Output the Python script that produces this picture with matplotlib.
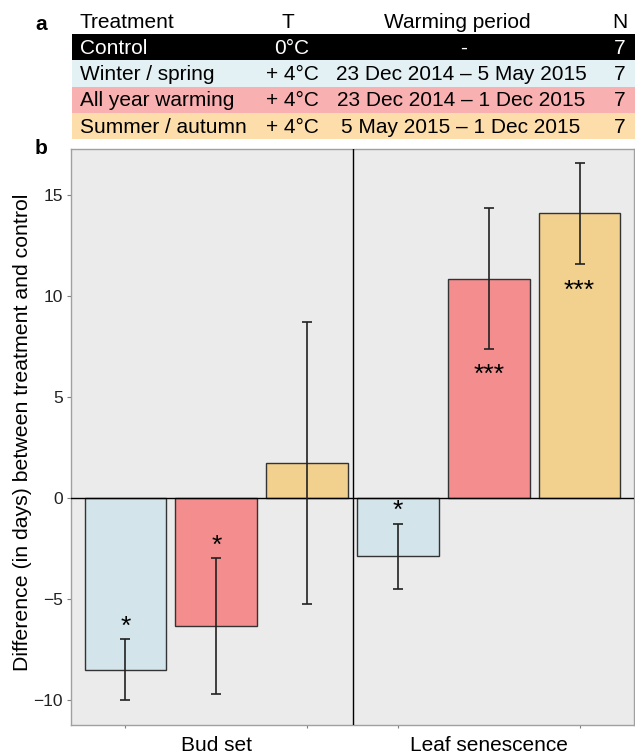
import matplotlib
matplotlib.use("Agg")
import matplotlib.pyplot as plt
from matplotlib.patches import Rectangle
import numpy as np

plt.rcParams["font.family"] = ["Liberation Sans", "DejaVu Sans"]

# ---------------------------------------------------------------------------
# Data
# ---------------------------------------------------------------------------

# Table of treatments (panel a)
TABLE_HEADER = ["Treatment", "T", "Warming period", "N"]
TREATMENTS = ["Control", "Winter / spring", "All year warming", "Summer / autumn"]
TEMPS = ["0°C", "+ 4°C", "+ 4°C", "+ 4°C"]
PERIODS = [
    "-",
    "23 Dec 2014 – 5 May 2015",
    "23 Dec 2014 – 1 Dec 2015",
    "5 May 2015 – 1 Dec 2015",
]
N_TREES = [7, 7, 7, 7]
ROW_COLORS = ["#000000", "#E3F1F5", "#F9B0B0", "#FDDEAB"]
ROW_TEXT = ["white", "black", "black", "black"]

# Bar chart (panel b): difference treatment - control, in days
PHASES = ["Bud set", "Leaf senescence"]
BAR_TREATMENTS = ["Winter / spring", "All year warming", "Summer / autumn"]
BAR_COLORS = ["#D3E4EB", "#F48D8E", "#F2D08E"]
BUD_SET_MEAN = [-8.5, -6.34, 1.72]
BUD_SET_SE = [1.5, 3.37, 6.97]
BUD_SET_SIG = ["*", "*", ""]
SENESCENCE_MEAN = [-2.89, 10.86, 14.09]
SENESCENCE_SE = [1.61, 3.48, 2.51]
SENESCENCE_SIG = ["*", "***", "***"]

# ---------------------------------------------------------------------------
# Figure
# ---------------------------------------------------------------------------

W, H = 635, 756
fig = plt.figure(figsize=(W / 100, H / 100), dpi=100)

# -- panel a: treatment table, laid out in pixel coordinates --
tab = fig.add_axes([0, 0, 1, 1])
tab.set_xlim(0, W)
tab.set_ylim(H, 0)
tab.axis("off")

fs_tab = 15.0
row_top, row_h = 34.0, 26.3
col_x = [80, 292, 461, 620]
col_ha = ["left", "center", "center", "center"]

header_x = [80, 288, 457, 620]
for x, ha, txt in zip(header_x, col_ha, TABLE_HEADER):
    tab.text(x, 22, txt, ha=ha, va="center", fontsize=fs_tab)

for i, (name, temp, period, n) in enumerate(zip(TREATMENTS, TEMPS, PERIODS, N_TREES)):
    y0 = row_top + i * row_h
    tab.add_patch(Rectangle((71.5, y0), W - 71.5, row_h,
                            facecolor=ROW_COLORS[i], edgecolor="none"))
    yc = y0 + row_h / 2 + 1
    for x, ha, txt in zip(col_x, col_ha, [name, temp, period, str(n)]):
        if txt == "-":
            x = 464
        tab.text(x, yc, txt, ha=ha, va="center", fontsize=fs_tab,
                 color=ROW_TEXT[i])

tab.text(41, 24, "a", ha="center", va="center", fontsize=15, fontweight="bold")
tab.text(41, 149, "b", ha="center", va="center", fontsize=15, fontweight="bold")

# -- panel b: bar chart --
ax = fig.add_axes([71 / W, 1 - 725 / H, (634 - 71) / W, (725 - 149) / H])
ax.set_facecolor("#EBEBEB")

means = BUD_SET_MEAN + SENESCENCE_MEAN
ses = BUD_SET_SE + SENESCENCE_SE
sigs = BUD_SET_SIG + SENESCENCE_SIG
colors = BAR_COLORS * len(PHASES)
x = np.arange(1, len(means) + 1)

ax.bar(x, means, width=0.9, color=colors, edgecolor="#333333",
       linewidth=1.0, zorder=2)
ax.axhline(0, color="black", linewidth=1.0, zorder=3)
ax.axvline(len(BAR_TREATMENTS) + 0.5, color="black", linewidth=1.0, zorder=3)
ax.errorbar(x, means, yerr=ses, fmt="none", ecolor="#222222",
            elinewidth=1.2, capsize=3.3, capthick=1.2, zorder=4)

for xi, m, s, sig in zip(x, means, ses, sigs):
    if not sig:
        continue
    if m < 0:
        ax.annotate(sig, (xi, m + s), xytext=(0, 4), textcoords="offset points",
                    ha="center", va="baseline", fontsize=19, zorder=5)
    else:
        ax.annotate(sig, (xi, m - s), xytext=(0, -24), textcoords="offset points",
                    ha="center", va="baseline", fontsize=19, zorder=5)

ax.set_xlim(0.4, 6.6)
ax.set_ylim(-11.24, 17.28)
ax.set_yticks([-10, -5, 0, 5, 10, 15])
ax.tick_params(axis="y", length=3, width=0.8, color="#7f7f7f", pad=3,
               labelsize=12.5, labelcolor="#222222")

centres = [np.mean(x[i * 3:(i + 1) * 3]) for i in range(len(PHASES))]
ax.set_xticks(centres)
ax.set_xticklabels(PHASES, fontsize=15.0)
ax.set_xticks(x, minor=True)
ax.tick_params(axis="x", which="major", length=0, pad=8)
ax.tick_params(axis="x", which="minor", length=2.5, width=0.8, color="#7f7f7f")

for spine in ax.spines.values():
    spine.set_color("#a0a0a0")
    spine.set_linewidth(1.0)

fig.text(23 / W, 1 - 432 / H, "Difference (in days) between treatment and control",
         rotation=90, ha="center", va="center", fontsize=15.3)

fig.savefig("out.png", dpi=100)
